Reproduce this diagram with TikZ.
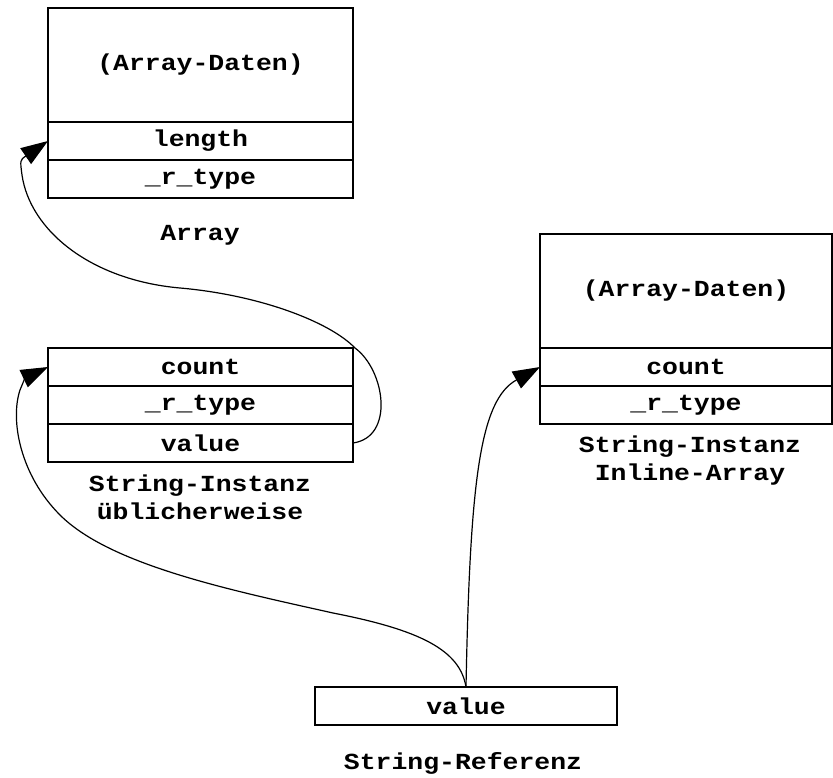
\documentclass[tikz,border=0pt]{standalone}
\usepackage{fontspec}
\setmainfont{Liberation Mono}[FakeStretch=1.15]
\usetikzlibrary{positioning, arrows.meta}

\begin{document}
\begin{tikzpicture}[x=1pt, y=-1pt,
    font=\fontsize{23pt}{28pt}\selectfont\bfseries,
    cell/.style={draw, line width=1.6pt, inner sep=0pt, outer sep=0pt, minimum width=305pt, minimum height=38pt},
    datacell/.style={cell, minimum height=114pt},
    ptr/.style={line width=1.2pt, -{Triangle[length=27pt, width=19pt]}}]
      \useasboundingbox (0,0) rectangle (833,778);
      \node[datacell, anchor=north west] (ad) at (48, 8) {(Array-Daten)};
      \node[cell, below=0pt of ad] (al) {length};
      \node[cell, below=0pt of al] (at) {\_r\_type};
      \node (alab) at (200, 235) {Array};
      \node[cell, anchor=north west] (sc) at (48, 348) {count};
      \node[cell, below=0pt of sc] (st) {\_r\_type};
      \node[cell, below=0pt of st] (sv) {value};
      \node[align=center] (slab) at (200, 497) {String-Instanz\\üblicherweise};
      \node[datacell, minimum width=292pt, anchor=north west] (id) at (540, 234) {(Array-Daten)};
      \node[cell, minimum width=292pt, below=0pt of id] (ic) {count};
      \node[cell, minimum width=292pt, below=0pt of ic] (it) {\_r\_type};
      \node[align=center] (ilab) at (690, 461) {String-Instanz\\Inline-Array};
      \node[cell, minimum width=302pt, anchor=north west] (rv) at (315, 687) {value};
      \node (rlab) at (463, 763) {String-Referenz};
      \draw[ptr] (sv.east) .. controls (395,437) and (385,370) .. (355,348)
        .. controls (330,322) and (260,295) .. (180,288)
        .. controls (90,280) and (30,230) .. (22,175)
        .. controls (20,160) .. (al.west);
      \draw[ptr] (rv.north) .. controls (460,650) and (420,630) .. (333,613)
        .. controls (230,590) and (110,565) .. (60,515)
        .. controls (20,475) and (10,420) .. (20,390)
        .. controls (25,378) .. (sc.west);
      \draw[ptr] (rv.north) .. controls (470,480) and (480,400) .. (ic.west);
    \end{tikzpicture}
\end{document}
